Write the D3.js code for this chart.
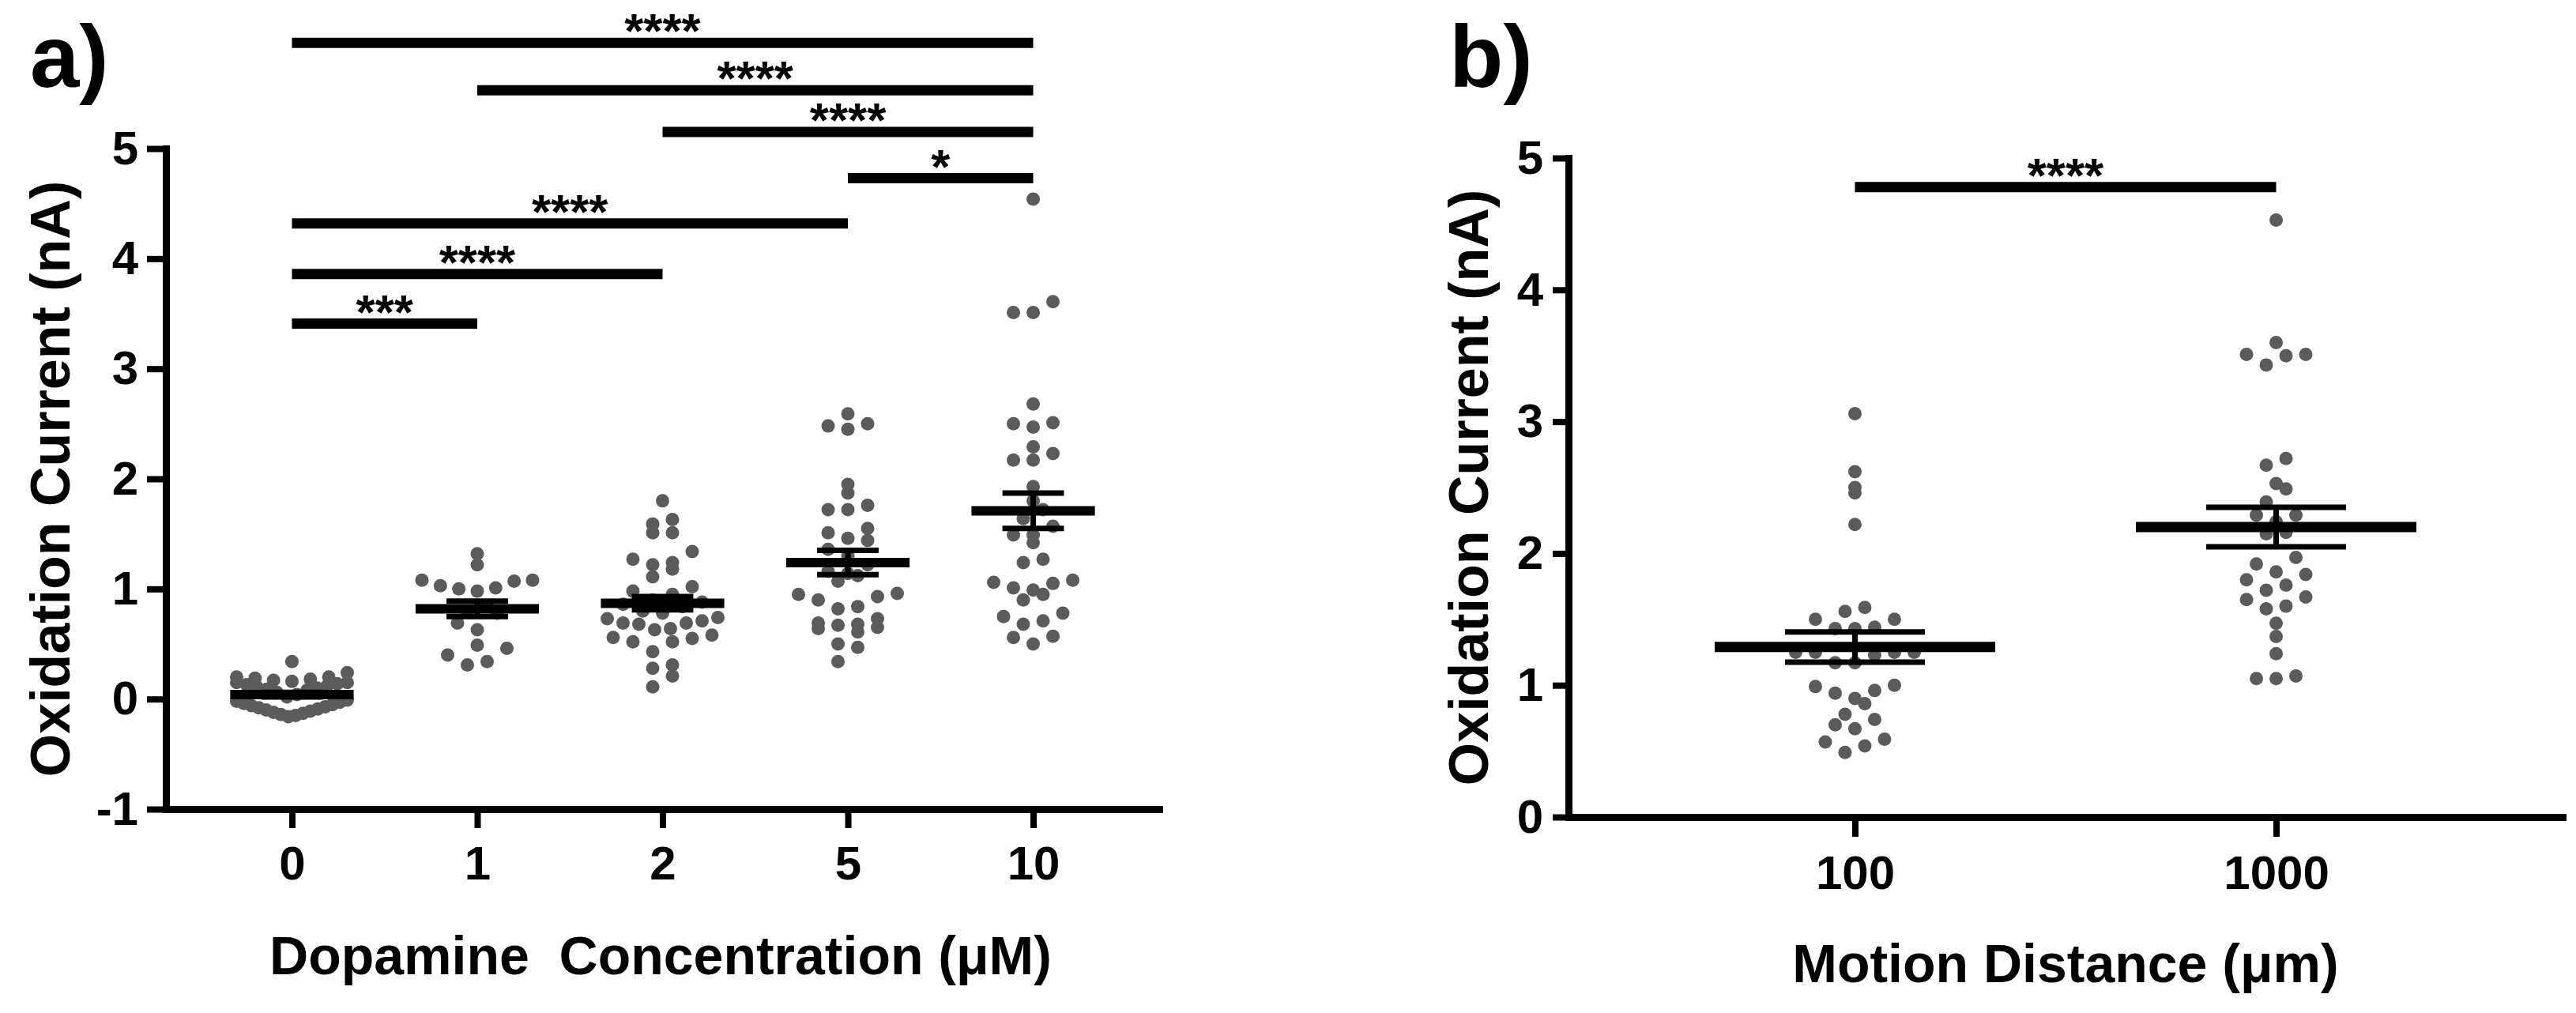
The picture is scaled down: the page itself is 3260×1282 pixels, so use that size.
<!DOCTYPE html>
<html>
<head>
<meta charset="utf-8">
<script src="https://cdn.jsdelivr.net/npm/d3@7"></script>
<style>
  html, body { margin: 0; padding: 0; background: #ffffff; }
  svg { display: block; }
  text { font-family: "Liberation Sans", Arial, Helvetica, sans-serif; font-weight: bold; fill: #000; }
</style>
</head>
<body>
<svg id="chart" width="3260" height="1282"></svg>
<script>
// ---------------- DATA ----------------
// Panel a: dopamine concentration (µM)
const concCategories = ["0", "1", "2", "5", "10"];
const conc0 = [0.34, 0.24, 0.20, 0.20, 0.19, 0.18, 0.17, 0.16, 0.15, 0.15, 0.14, 0.13, 0.12, 0.11, 0.10, 0.09, 0.08, 0.06, 0.04, 0.02,
               -0.01, -0.02, -0.03, -0.04, -0.05, -0.06, -0.07, -0.08, -0.09, -0.10, -0.11, -0.12, -0.13, -0.14, -0.15, -0.16];
const conc1 = [1.32, 1.22, 1.08, 1.08, 1.07, 1.03, 1.01, 1.00, 0.98, 0.85, 0.80, 0.78, 0.69, 0.63, 0.49, 0.46, 0.40, 0.34, 0.31];
const conc2 = [1.80, 1.63, 1.59, 1.51, 1.51, 1.34, 1.27, 1.24, 1.22, 1.18, 1.11, 1.02, 0.98, 0.95, 0.90, 0.88, 0.86, 0.84, 0.80,
               0.78, 0.74, 0.73, 0.71, 0.69, 0.69, 0.68, 0.64, 0.63, 0.58, 0.56, 0.55, 0.52, 0.52, 0.43, 0.31, 0.28, 0.21, 0.11];
const conc5 = [2.59, 2.50, 2.48, 2.45, 1.95, 1.87, 1.76, 1.72, 1.72, 1.55, 1.51, 1.46, 1.44, 1.36, 1.30, 1.22, 1.16, 1.14,
               1.12, 1.07, 0.96, 0.95, 0.93, 0.90, 0.84, 0.82, 0.73, 0.69, 0.68, 0.67, 0.65, 0.64, 0.61, 0.50, 0.47, 0.34];
const conc10 = [4.54, 3.61, 3.51, 3.51, 2.68, 2.51, 2.50, 2.47, 2.29, 2.23, 2.17, 2.17, 1.93, 1.80, 1.72, 1.64, 1.57, 1.49,
                1.49, 1.42, 1.27, 1.24, 1.08, 1.06, 1.05, 1.01, 0.99, 0.95, 0.90, 0.78, 0.75, 0.71, 0.68, 0.57, 0.56, 0.50];
const concMeans = [0.04, 0.82, 0.87, 1.24, 1.71];
const concSEM = [0.02, 0.07, 0.06, 0.11, 0.16];
const concTicks = [-1, 0, 1, 2, 3, 4, 5];
// significance brackets: [from, to, height (nA), label]
const concSig = [
  ["0", "10", 5.96, "****"],
  ["1", "10", 5.53, "****"],
  ["2", "10", 5.15, "****"],
  ["5", "10", 4.73, "*"],
  ["0", "5", 4.32, "****"],
  ["0", "2", 3.86, "****"],
  ["0", "1", 3.41, "***"]
];

// Panel b: motion distance (µm)
const distCategories = ["100", "1000"];
const dist100 = [3.06, 2.62, 2.50, 2.46, 2.22, 1.59, 1.56, 1.50, 1.50, 1.44, 1.43, 1.43, 1.25, 1.25, 1.25, 1.25, 1.23,
                 1.17, 1.17, 1.00, 0.99, 0.96, 0.94, 0.90, 0.86, 0.78, 0.74, 0.70, 0.67, 0.59, 0.57, 0.54, 0.49];
const dist1000 = [4.53, 3.60, 3.51, 3.51, 3.50, 3.43, 2.72, 2.67, 2.53, 2.49, 2.39, 2.29, 2.29, 2.24, 2.16, 2.15, 1.97,
                  1.92, 1.86, 1.84, 1.80, 1.76, 1.72, 1.67, 1.65, 1.60, 1.58, 1.47, 1.37, 1.24, 1.07, 1.05, 1.05];
const distMeans = [1.29, 2.20];
const distSEM = [0.115, 0.15];
const distTicks = [0, 1, 2, 3, 4, 5];
const distSig = [["100", "1000", 4.78, "****"]];

// ---------------- DRAWING ----------------
const svg = d3.select("#chart");
const DOT = "#5b5b5b";

function swarm(values, y, cx, binPx, dxMax, maxW) {
  const sorted = values.slice().sort((a, b) => a - b);
  const base = y(sorted[0]);
  const bins = new Map();
  sorted.forEach(v => {
    const k = Math.floor((base - y(v)) / binPx + 1e-9);
    if (!bins.has(k)) bins.set(k, []);
    bins.get(k).push(v);
  });
  const pts = [];
  bins.forEach(arr => {
    const n = arr.length;
    const sp = n > 1 ? Math.min(dxMax, maxW / (n - 1)) : 0;
    arr.forEach((v, i) => {
      let off;
      if (n % 2 === 1) {
        off = i === 0 ? 0 : (i % 2 === 1 ? -Math.ceil(i / 2) : Math.ceil(i / 2));
      } else {
        const k = Math.floor(i / 2) + 0.5;
        off = i % 2 === 0 ? -k : k;
      }
      pts.push({ x: cx + off * sp, y: y(v) });
    });
  });
  return pts;
}

function panel(cfg) {
  const g = svg.append("g");
  const x = d3.scalePoint().domain(cfg.categories).range(cfg.xRange).padding(0.68);
  const y = d3.scaleLinear().domain(cfg.yDomain).range(cfg.yRange);
  const step = x.step();
  const meanHalf = 0.333 * step, capHalf = 0.166 * step;

  // dots
  cfg.groups.forEach((vals, i) => {
    const pts = swarm(vals, y, x(cfg.categories[i]), 22, 25, cfg.maxW);
    g.append("g").selectAll("circle").data(pts).join("circle")
      .attr("cx", d => d.x).attr("cy", d => d.y).attr("r", 8.5).attr("fill", DOT);
  });

  // mean and SEM
  cfg.categories.forEach((c, i) => {
    const cx = x(c), m = cfg.means[i], s = cfg.sem[i];
    g.append("line").attr("x1", cx).attr("x2", cx).attr("y1", y(m + s)).attr("y2", y(m - s))
      .attr("stroke", "#000").attr("stroke-width", 7);
    [m + s, m - s].forEach(v => {
      g.append("line").attr("x1", cx - capHalf).attr("x2", cx + capHalf)
        .attr("y1", y(v)).attr("y2", y(v)).attr("stroke", "#000").attr("stroke-width", 7);
    });
    g.append("line").attr("x1", cx - meanHalf).attr("x2", cx + meanHalf)
      .attr("y1", y(m)).attr("y2", y(m)).attr("stroke", "#000").attr("stroke-width", cfg.meanThick);
  });

  // axes
  const ya = g.append("g").attr("transform", `translate(${cfg.xRange[0]},0)`)
    .call(d3.axisLeft(y).tickValues(cfg.ticks).tickFormat(d => String(d))
      .tickSize(cfg.yTickSize).tickPadding(cfg.yTickPad).tickSizeOuter(0));
  const xa = g.append("g").attr("transform", `translate(0,${cfg.yRange[0]})`)
    .call(d3.axisBottom(x).tickSize(cfg.xTickSize).tickPadding(cfg.xTickPad).tickSizeOuter(0));
  [ya, xa].forEach(a => {
    a.attr("font-family", null).attr("font-size", null);
    a.select(".domain").attr("stroke", "#000").attr("stroke-width", 9).attr("stroke-linecap", "square");
    a.selectAll(".tick line").attr("stroke", "#000").attr("stroke-width", 8);
    a.selectAll(".tick text").style("font-size", "60px").attr("fill", "#000");
  });

  // significance bars
  cfg.sig.forEach(([a, b, h, lab]) => {
    const x1 = x(a), x2 = x(b), yy = y(h);
    g.append("line").attr("x1", x1).attr("x2", x2).attr("y1", yy).attr("y2", yy)
      .attr("stroke", "#000").attr("stroke-width", 13);
    g.append("text").attr("x", (x1 + x2) / 2).attr("y", yy + 6)
      .attr("text-anchor", "middle").style("font-size", "62px").text(lab);
  });

  // titles
  g.append("text").attr("x", cfg.xTitle[0]).attr("y", cfg.xTitle[1]).attr("text-anchor", "middle")
    .style("font-size", "68px").style("white-space", "pre").text(cfg.xLabel);
  const yc = (cfg.yRange[0] + cfg.yRange[1]) / 2;
  g.append("text").attr("transform", `translate(${cfg.yTitleX},${yc}) rotate(-90)`)
    .attr("text-anchor", "middle").style("font-size", "70px").text(cfg.yLabel);
  g.append("text").attr("x", cfg.tag[0]).attr("y", cfg.tag[1]).style("font-size", "112px").text(cfg.tagText);
}

panel({
  categories: concCategories,
  groups: [conc0, conc1, conc2, conc5, conc10],
  means: concMeans, sem: concSEM, ticks: concTicks, sig: concSig,
  xRange: [210, 1467], yDomain: [-1, 5], yRange: [1024, 188],
  yTickSize: 24, yTickPad: 11, xTickSize: 24, xTickPad: 22,
  meanThick: 12, maxW: 140,
  xTitle: [836, 1233], xLabel: "Dopamine  Concentration (\u03BCM)",
  yTitleX: 88, yLabel: "Oxidation Current (nA)",
  tag: [38, 110], tagText: "a)"
});

panel({
  categories: distCategories,
  groups: [dist100, dist1000],
  means: distMeans, sem: distSEM, ticks: distTicks, sig: distSig,
  xRange: [1985, 3243], yDomain: [0, 5], yRange: [1034, 200],
  yTickSize: 20, yTickPad: 12, xTickSize: 25, xTickPad: 23,
  meanThick: 13, maxW: 160,
  xTitle: [2614, 1243], xLabel: "Motion Distance (\u03BCm)",
  yTitleX: 1883, yLabel: "Oxidation Current (nA)",
  tag: [1834, 110], tagText: "b)"
});
</script>
</body>
</html>
